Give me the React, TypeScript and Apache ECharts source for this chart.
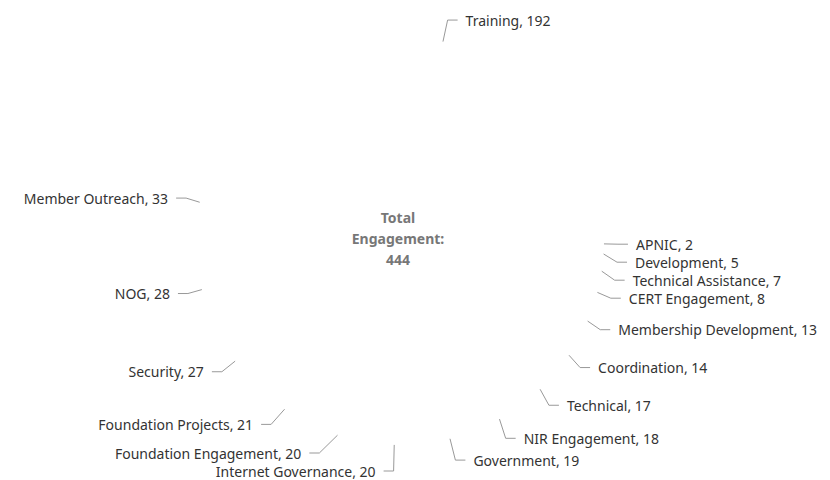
import React, { useEffect, useRef } from "react";
import * as echarts from "echarts";

const categories = [
  "APNIC",
  "Development",
  "Technical Assistance",
  "CERT Engagement",
  "Membership Development",
  "Coordination",
  "Technical",
  "NIR Engagement",
  "Government",
  "Internet Governance",
  "Foundation Engagement",
  "Foundation Projects",
  "Security",
  "NOG",
  "Member Outreach",
  "Training",
];
const values = [2, 5, 7, 8, 13, 14, 17, 18, 19, 20, 20, 21, 27, 28, 33, 192];
const centerLines = ["Total", "Engagement:", "444"];

export default function App() {
  const ref = useRef<HTMLDivElement>(null);
  useEffect(() => {
    document.body.style.margin = "0";
    const chart = echarts.init(ref.current!, undefined, { renderer: "svg" });
    chart.setOption({
      animation: false,
      graphic: [
        {
          type: "text",
          x: 398,
          y: 238,
          style: {
            text: centerLines.join("\n"),
            align: "center",
            verticalAlign: "middle",
            fill: "#777",
            font: "bold 14px 'Noto Sans', sans-serif",
            lineHeight: 21,
          },
        },
      ],
      series: [
        {
          type: "pie",
          center: [400, 241],
          radius: [0, 204],
          startAngle: 0,
          clockwise: true,
          itemStyle: { color: "rgba(0,0,0,0)" },
          emphasis: { disabled: true },
          label: {
            show: true,
            formatter: "{b}, {c}",
            color: "#333",
            fontSize: 14,
            lineHeight: 16,
            distanceToLabelLine: 8,
            fontFamily: "'Noto Sans', sans-serif",
          },
          labelLine: {
            show: true,
            length: 22,
            length2: 10,
            lineStyle: { color: "#999", width: 1 },
          },
          data: categories.map((c, i) => ({ name: c, value: values[i] })),
        },
      ],
    });
    return () => chart.dispose();
  }, []);
  return <div ref={ref} style={{ width: 830, height: 480 }} />;
}
